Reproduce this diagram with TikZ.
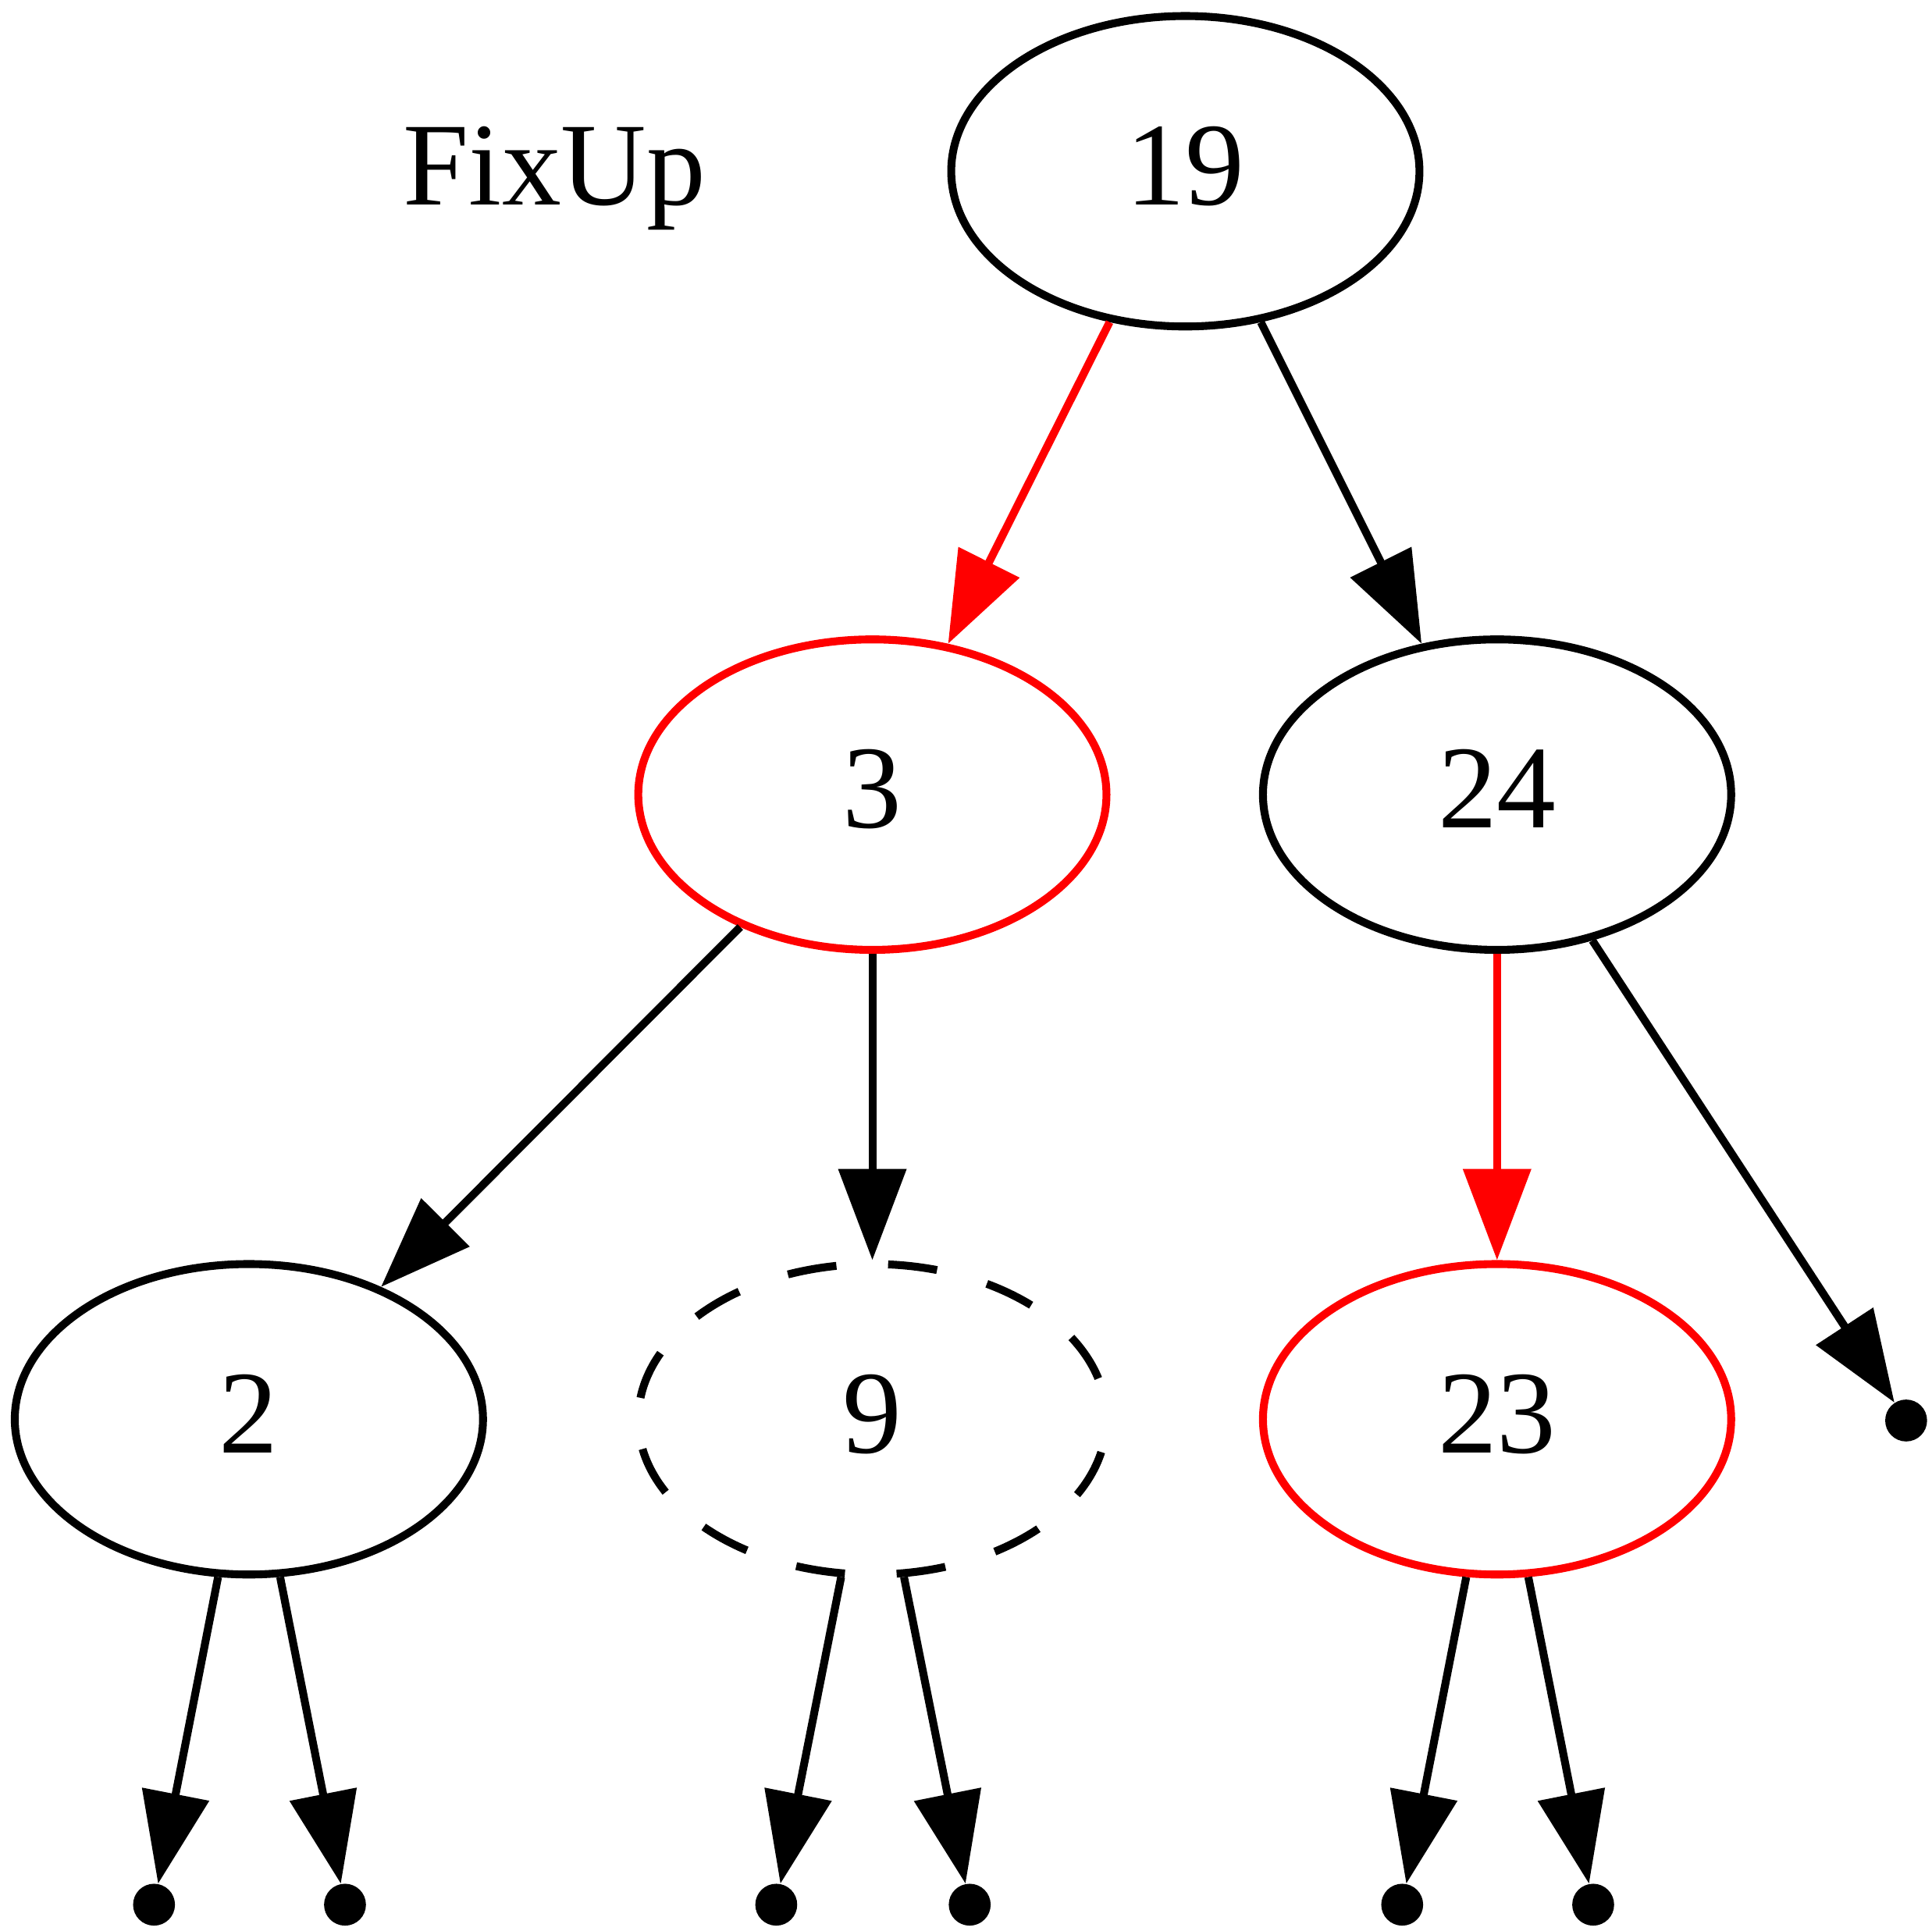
\documentclass[tikz,border=0pt]{standalone}
\usepackage{fontspec}
\setmainfont{Liberation Serif}
\usetikzlibrary{arrows.meta,shapes.geometric}

\begin{document}
\begin{tikzpicture}[x=0.5pt,y=-0.5pt,
  vtx/.style={draw=black, ellipse, line width=3.2pt, minimum width=190pt, minimum height=126pt,
              inner sep=0pt, font=\fontsize{48}{52}\selectfont, text height=33pt, text depth=6pt},
  vtxR/.style={vtx, draw=red},
  vtxD/.style={vtx, dash pattern=on 20pt off 21pt, dash phase=24pt},
  nil/.style={circle, fill=black, minimum size=17pt, inner sep=0pt},
  link/.style={-{Triangle[length=37pt,width=27pt]}, line width=3.2pt, draw=black},
  linkR/.style={link, draw=red}]
  \useasboundingbox (0,0) rectangle (1568,1567);
  \node[font=\fontsize{48}{52}\selectfont, anchor=base] (title) at (450,166) {FixUp};
  % tree
  \node[vtx]  (n19) at (962,139)   {19};
  \node[vtxR] (n3)  at (708,645)   {3};
  \node[vtx]  (n24) at (1215,645)  {24};
  \node[vtx]  (n2)  at (202,1152)  {2};
  \node[vtxD] (n9)  at (708,1152)  {9};
  \node[vtxR] (n23) at (1215,1152) {23};
  % empty leaves
  \node[nil] (p24r) at (1547,1153) {};
  \node[nil] (p2l)  at (125,1546)  {};
  \node[nil] (p2r)  at (280,1546)  {};
  \node[nil] (p9l)  at (630,1546)  {};
  \node[nil] (p9r)  at (787,1546)  {};
  \node[nil] (p23l) at (1138,1546) {};
  \node[nil] (p23r) at (1293,1546) {};
  \draw[linkR] (n19) -- (n3);
  \draw[link]  (n19) -- (n24);
  \draw[link]  (n3) -- (n2);
  \draw[link]  (n3) -- (n9);
  \draw[linkR] (n24) -- (n23);
  \foreach \p/\q in {n24/p24r,n2/p2l,n2/p2r,n9/p9l,n9/p9r,n23/p23l,n23/p23r}{\draw[link] (\p) -- (\q);}
\end{tikzpicture}
\end{document}
